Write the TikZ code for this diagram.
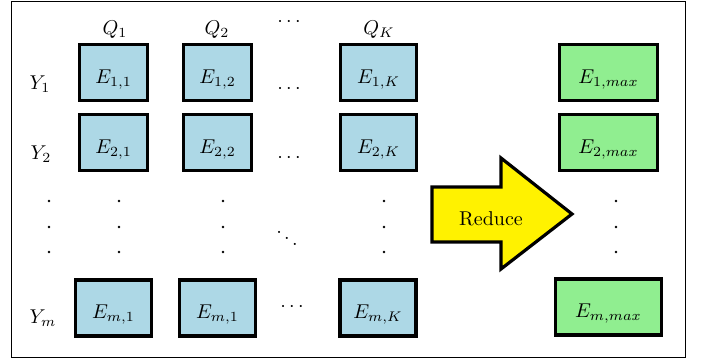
\documentclass[tikz,border=0pt]{standalone}
\usepackage{xcolor}
\definecolor{cellblue}{RGB}{173,216,230}
\definecolor{maxgreen}{RGB}{144,238,144}
\begin{document}
\begin{tikzpicture}[x=0.5pt,y=-0.5pt,
  cell/.style={draw=black, line width=1.6pt, fill=cellblue, minimum height=28pt, minimum width=34pt,
    inner sep=0pt, text height=10.5pt, text depth=0pt},
  widecell/.style={cell, minimum width=38pt},
  maxcell/.style={cell, fill=maxgreen, minimum width=49pt},
  widemax/.style={maxcell, minimum width=53pt},
  lbl/.style={inner sep=0pt},
  dotmark/.style={circle, fill=black, inner sep=0pt, minimum size=1.3pt}]
\useasboundingbox (0,0) rectangle (702,361);
% outer frame
\draw[line width=0.5pt] (11,1.5) rectangle (685.5,357.5);

% column headers
\node[lbl] (q1) at (115,30) {$Q_1$};
\node[lbl] (q2) at (217,30) {$Q_2$};
\node[lbl] (qh) at (289,22) {$\cdots$};
\node[lbl] (qk) at (379,30) {$Q_K$};

% row labels
\node[lbl] (y1) at (40,84) {$Y_1$};
\node[lbl] (y2) at (41,154) {$Y_2$};
\node[lbl] (ym) at (43,318) {$Y_m$};

% energy cells
\node[cell] (e11) at (113.5,72.5) {$E_{1,1}$};
\node[cell] (e12) at (217.5,72.5) {$E_{1,2}$};
\node[lbl]  (h1)  at (289,89) {$\cdots$};
\node[widecell] (e1k) at (378.5,72.5) {$E_{1,K}$};

\node[cell] (e21) at (113.5,142.5) {$E_{2,1}$};
\node[cell] (e22) at (217.5,142.5) {$E_{2,2}$};
\node[lbl]  (h2)  at (289,158) {$\cdots$};
\node[widecell] (e2k) at (378.5,142.5) {$E_{2,K}$};

\node[widecell] (em1) at (113.5,308) {$E_{m,1}$};
\node[widecell] (em2) at (217.5,308) {$E_{m,1}$};
\node[lbl]  (hm)  at (292,307) {$\cdots$};
\node[widecell] (emk) at (378,308) {$E_{m,K}$};

% vertical dots between the rows
\foreach \c/\x in {a/49,b/119,c/223,d/384,g/616}{
  \foreach \r/\y in {1/201,2/227,3/252}{
    \node[dotmark] (v\c\r) at (\x,\y) {};
  }
}
\node[lbl] (dd) at (287,232) {$\ddots$};

% reduce arrow
\draw[fill=yellow, line width=1.6pt, line join=miter]
  (432,187) -- (501,187) -- (501,158) -- (572,214) -- (501,269) -- (501,242) -- (432,242) -- cycle;
\node[lbl] (reduce) at (491,219) {Reduce};

% reduced maxima
\node[maxcell] (m1) at (608.5,72.5) {$E_{1,max}$};
\node[maxcell] (m2) at (608.5,142.5) {$E_{2,max}$};
\node[widemax] (mm) at (608.5,307) {$E_{m,max}$};
\end{tikzpicture}
\end{document}
